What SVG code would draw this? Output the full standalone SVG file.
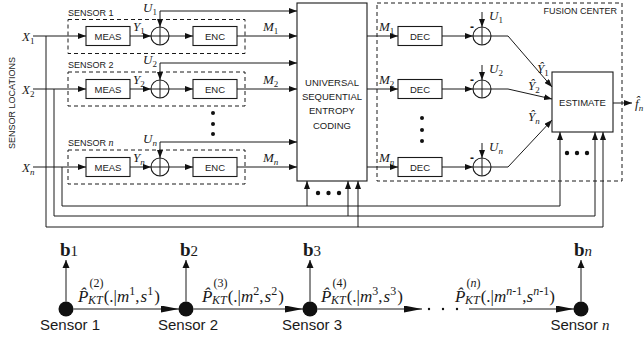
<svg xmlns="http://www.w3.org/2000/svg" width="644" height="341" viewBox="0 0 644 341">
<style>
.ln{fill:none;stroke:#1a1a1a;stroke-width:1}
.box{fill:#fff;stroke:#1a1a1a;stroke-width:1.1}
.dash{fill:none;stroke:#1a1a1a;stroke-width:1;stroke-dasharray:4 3}
.sans{font-family:"Liberation Sans",Arial,sans-serif;fill:#1a1a1a}
.bl{font-size:9.5px;text-anchor:middle}
.tag{font-size:9px}
.ser{font-family:"Liberation Serif","Times New Roman",serif;fill:#1a1a1a}
.var{font-size:13px;font-style:italic}
.sub{font-size:9px;font-style:normal}
.it{font-style:italic}
.pk{font-size:17px}
.sm{font-size:12px}
.dot{fill:#111}
.node{fill:#111}
.big{font-size:15px}
</style>
<defs>
<marker id="ah" viewBox="0 0 8 6" refX="8" refY="3" markerWidth="8" markerHeight="6" markerUnits="userSpaceOnUse" orient="auto"><path d="M0,0 L8,3 L0,6 z" fill="#111"/></marker>
<marker id="ahL" viewBox="0 0 18 7" refX="18" refY="3.5" markerWidth="18" markerHeight="7" markerUnits="userSpaceOnUse" orient="auto"><path d="M0,0 L18,3.5 L0,7 z" fill="#111"/></marker>
<marker id="ahU" viewBox="0 0 8 8" refX="8" refY="4" markerWidth="8" markerHeight="8" markerUnits="userSpaceOnUse" orient="auto"><path d="M0,0.5 L8,4 L0,7.5 z" fill="#111"/></marker>
</defs>

<text class="sans tag" transform="translate(15,103) rotate(-90)" text-anchor="middle">SENSOR LOCATIONS</text>

<g id="sensor1">
<rect class="dash" x="68" y="19.5" width="177" height="34"/>
<text class="sans tag" x="68" y="16">SENSOR 1</text>
<rect class="box" x="86" y="26.5" width="44" height="19"/>
<text class="sans bl" x="108" y="39.5">MEAS</text>
<circle class="box" cx="160" cy="36" r="9"/>
<path class="ln" d="M151,36 H169 M160,27 V45"/>
<rect class="box" x="193" y="26.5" width="44" height="19"/>
<text class="sans bl" x="215" y="39.5">ENC</text>
</g>
<g id="sensor2">
<rect class="dash" x="68" y="72" width="177" height="34"/>
<text class="sans tag" x="68" y="68">SENSOR 2</text>
<rect class="box" x="86" y="79.5" width="44" height="19"/>
<text class="sans bl" x="108" y="92.5">MEAS</text>
<circle class="box" cx="160" cy="89" r="9"/>
<path class="ln" d="M151,89 H169 M160,80 V98"/>
<rect class="box" x="193" y="79.5" width="44" height="19"/>
<text class="sans bl" x="215" y="92.5">ENC</text>
</g>
<g id="sensorn">
<rect class="dash" x="68" y="150" width="177" height="34"/>
<text class="sans tag" x="68" y="146">SENSOR <tspan class="ser it" font-size="10">n</tspan></text>
<rect class="box" x="86" y="157.5" width="44" height="19"/>
<text class="sans bl" x="108" y="170.5">MEAS</text>
<circle class="box" cx="160" cy="167" r="9"/>
<path class="ln" d="M151,167 H169 M160,158 V176"/>
<rect class="box" x="193" y="157.5" width="44" height="19"/>
<text class="sans bl" x="215" y="170.5">ENC</text>
</g>

<g id="usec">
<rect class="box" x="297" y="3" width="70" height="178"/>
<text class="sans bl" x="332" y="85.5">UNIVERSAL</text>
<text class="sans bl" x="332" y="100">SEQUENTIAL</text>
<text class="sans bl" x="332" y="114">ENTROPY</text>
<text class="sans bl" x="332" y="128.5">CODING</text>
</g>

<g id="fusion">
<rect class="dash" x="377" y="3" width="245" height="178"/>
<text class="sans tag" x="617" y="14" text-anchor="end">FUSION CENTER</text>
<rect class="box" x="398" y="26.5" width="44" height="19"/>
<text class="sans bl" x="420" y="39.5">DEC</text>
<circle class="box" cx="482" cy="36" r="9"/>
<path class="ln" d="M473,36 H491 M482,27 V45"/>
<rect class="box" x="398" y="79.5" width="44" height="19"/>
<text class="sans bl" x="420" y="92.5">DEC</text>
<circle class="box" cx="482" cy="89" r="9"/>
<path class="ln" d="M473,89 H491 M482,80 V98"/>
<rect class="box" x="398" y="157.5" width="44" height="19"/>
<text class="sans bl" x="420" y="170.5">DEC</text>
<circle class="box" cx="482" cy="167" r="9"/>
<path class="ln" d="M473,167 H491 M482,158 V176"/>
</g>

<g id="estimate">
<rect class="box" x="552" y="72" width="61" height="60"/>
<text class="sans bl" x="582.5" y="106">ESTIMATE</text>
</g>

<g id="connectors">
<path class="ln" d="M33,36 H86" marker-end="url(#ah)"/>
<path class="ln" d="M33,89 H86" marker-end="url(#ah)"/>
<path class="ln" d="M33,167 H86" marker-end="url(#ah)"/>
<path class="ln" d="M130,36 H151" marker-end="url(#ah)"/>
<path class="ln" d="M130,89 H151" marker-end="url(#ah)"/>
<path class="ln" d="M130,167 H151" marker-end="url(#ah)"/>
<path class="ln" d="M169,36 H193" marker-end="url(#ah)"/>
<path class="ln" d="M169,89 H193" marker-end="url(#ah)"/>
<path class="ln" d="M169,167 H193" marker-end="url(#ah)"/>
<path class="ln" d="M237,36 H297" marker-end="url(#ah)"/>
<path class="ln" d="M237,89 H297" marker-end="url(#ah)"/>
<path class="ln" d="M237,167 H297" marker-end="url(#ah)"/>
<path class="ln" d="M160,11 H297" marker-end="url(#ah)"/>
<path class="ln" d="M160,11 V27" marker-end="url(#ah)"/>
<path class="ln" d="M160,63 H297" marker-end="url(#ah)"/>
<path class="ln" d="M160,63 V80" marker-end="url(#ah)"/>
<path class="ln" d="M160,142 H297" marker-end="url(#ah)"/>
<path class="ln" d="M160,142 V158" marker-end="url(#ah)"/>
<path class="ln" d="M367,36 H398" marker-end="url(#ah)"/>
<path class="ln" d="M367,89 H398" marker-end="url(#ah)"/>
<path class="ln" d="M367,167 H398" marker-end="url(#ah)"/>
<path class="ln" d="M442,36 H473" marker-end="url(#ah)"/>
<path class="ln" d="M442,89 H473" marker-end="url(#ah)"/>
<path class="ln" d="M442,167 H473" marker-end="url(#ah)"/>
<path class="ln" d="M482,12 V27" marker-end="url(#ah)"/>
<path class="ln" d="M482,65 V80" marker-end="url(#ah)"/>
<path class="ln" d="M482,143 V158" marker-end="url(#ah)"/>
<path class="ln" d="M491,36 H508 L552,87" marker-end="url(#ah)"/>
<path class="ln" d="M491,89 H508 L552,99" marker-end="url(#ah)"/>
<path class="ln" d="M491,167 H508 L552,120" marker-end="url(#ah)"/>
<path class="ln" d="M613,103 H632" marker-end="url(#ah)"/>
<path class="ln" d="M46,36 V227 H603 V132" marker-end="url(#ah)"/>
<path class="ln" d="M54,89 V216 H595 V132" marker-end="url(#ah)"/>
<path class="ln" d="M62,167 V206 H560 V132" marker-end="url(#ah)"/>
<path class="ln" d="M358,227 V181" marker-end="url(#ah)"/>
<path class="ln" d="M348,216 V181" marker-end="url(#ah)"/>
<path class="ln" d="M307,206 V181" marker-end="url(#ah)"/>
<path class="ln" d="M66,301.5 V260" marker-end="url(#ahU)"/>
<path class="ln" d="M186,301.5 V260" marker-end="url(#ahU)"/>
<path class="ln" d="M310,301.5 V260" marker-end="url(#ahU)"/>
<path class="ln" d="M581,301.5 V260" marker-end="url(#ahU)"/>
<path class="ln" d="M73.5,309 H179" marker-end="url(#ahL)"/>
<path class="ln" d="M193.5,309 H303" marker-end="url(#ahL)"/>
<path class="ln" d="M317.5,309 H422" marker-end="url(#ahL)"/>
<path class="ln" d="M469,309 H574" marker-end="url(#ahL)"/>
</g>

<g id="labels">
<text class="ser var" x="22" y="41">X<tspan class="sub" dy="3">1</tspan></text>
<text class="ser var" x="22" y="94">X<tspan class="sub" dy="3">2</tspan></text>
<text class="ser var" x="22" y="172">X<tspan class="sub it" dy="3">n</tspan></text>
<text class="ser var" x="133" y="31">Y<tspan class="sub" dy="3">1</tspan></text>
<text class="ser var" x="133" y="84">Y<tspan class="sub" dy="3">2</tspan></text>
<text class="ser var" x="133" y="162">Y<tspan class="sub it" dy="3">n</tspan></text>
<text class="ser var" x="143" y="12">U<tspan class="sub" dy="3">1</tspan></text>
<text class="ser var" x="143" y="64">U<tspan class="sub" dy="3">2</tspan></text>
<text class="ser var" x="143" y="143">U<tspan class="sub it" dy="3">n</tspan></text>
<text class="ser var" x="263" y="31">M<tspan class="sub" dy="3">1</tspan></text>
<text class="ser var" x="263" y="84">M<tspan class="sub" dy="3">2</tspan></text>
<text class="ser var" x="263" y="162">M<tspan class="sub it" dy="3">n</tspan></text>
<text class="ser var" x="379" y="31">M<tspan class="sub" dy="3">1</tspan></text>
<text class="ser var" x="379" y="84">M<tspan class="sub" dy="3">2</tspan></text>
<text class="ser var" x="379" y="162">M<tspan class="sub it" dy="3">n</tspan></text>
<text class="ser var" x="489" y="20">U<tspan class="sub" dy="3">1</tspan></text>
<text class="ser var" x="489" y="73">U<tspan class="sub" dy="3">2</tspan></text>
<text class="ser var" x="489" y="151">U<tspan class="sub it" dy="3">n</tspan></text>
<text class="sans" font-size="12" font-weight="bold" x="470" y="31">-</text>
<text class="sans" font-size="12" font-weight="bold" x="470" y="84">-</text>
<text class="sans" font-size="12" font-weight="bold" x="470" y="162">-</text>
<text class="ser var" x="537" y="73">Ŷ<tspan class="sub" dy="3">1</tspan></text>
<text class="ser var" x="528" y="90">Ŷ<tspan class="sub" dy="3">2</tspan></text>
<text class="ser var" x="528" y="121">Ŷ<tspan class="sub it" dy="3">n</tspan></text>
<text class="ser var" x="635" y="108">f̂<tspan class="sub it" dy="3">n</tspan></text>
</g>

<g id="dots">
<circle class="dot" cx="213" cy="113" r="2"/>
<circle class="dot" cx="213" cy="124" r="2"/>
<circle class="dot" cx="213" cy="134" r="2"/>
<circle class="dot" cx="422" cy="118" r="2"/>
<circle class="dot" cx="422" cy="130" r="2"/>
<circle class="dot" cx="422" cy="141" r="2"/>
<circle class="dot" cx="318" cy="193" r="2.2"/>
<circle class="dot" cx="328.5" cy="193" r="2.2"/>
<circle class="dot" cx="339" cy="193" r="2.2"/>
<circle class="dot" cx="567" cy="153" r="2.2"/>
<circle class="dot" cx="577" cy="153" r="2.2"/>
<circle class="dot" cx="587" cy="153" r="2.2"/>
<circle class="dot" cx="429" cy="309" r="1.2"/>
<circle class="dot" cx="443" cy="309" r="1.2"/>
<circle class="dot" cx="457" cy="309" r="1.2"/>
</g>

<g id="node1">
<circle class="node" cx="66" cy="309" r="7.5"/>
<text class="ser" x="60" y="256"><tspan font-size="19" font-weight="bold">b</tspan><tspan font-size="15">1</tspan></text>
<text class="sans big" x="70" y="330" text-anchor="middle">Sensor 1</text>
</g>
<g id="node2">
<circle class="node" cx="186" cy="309" r="7.5"/>
<text class="ser" x="180" y="256"><tspan font-size="19" font-weight="bold">b</tspan><tspan font-size="15">2</tspan></text>
<text class="sans big" x="188" y="330" text-anchor="middle">Sensor 2</text>
</g>
<g id="node3">
<circle class="node" cx="310" cy="309" r="7.5"/>
<text class="ser" x="303" y="256"><tspan font-size="19" font-weight="bold">b</tspan><tspan font-size="15">3</tspan></text>
<text class="sans big" x="312" y="330" text-anchor="middle">Sensor 3</text>
</g>
<g id="noden">
<circle class="node" cx="581" cy="309" r="7.5"/>
<text class="ser" x="574" y="256"><tspan font-size="19" font-weight="bold">b</tspan><tspan font-size="15" font-style="italic">n</tspan></text>
<text class="sans big" x="580" y="330" text-anchor="middle">Sensor <tspan class="ser it">n</tspan></text>
</g>

<g id="plabels">
<text class="ser pk" x="78" y="302"><tspan class="it">P̂</tspan><tspan class="sm" dx="1" dy="-15">(2)</tspan><tspan class="sm it" x="88" dy="17">KT</tspan><tspan dy="-2" dx="1">(.|</tspan><tspan class="it">m</tspan><tspan class="sm" dy="-7">1</tspan><tspan dy="7">,</tspan><tspan class="it" dx="1">s</tspan><tspan class="sm" dy="-7">1</tspan><tspan dy="7" dx="1">)</tspan></text>
<text class="ser pk" x="202" y="302"><tspan class="it">P̂</tspan><tspan class="sm" dx="1" dy="-15">(3)</tspan><tspan class="sm it" x="212" dy="17">KT</tspan><tspan dy="-2" dx="1">(.|</tspan><tspan class="it">m</tspan><tspan class="sm" dy="-7">2</tspan><tspan dy="7">,</tspan><tspan class="it" dx="1">s</tspan><tspan class="sm" dy="-7">2</tspan><tspan dy="7" dx="1">)</tspan></text>
<text class="ser pk" x="321" y="302"><tspan class="it">P̂</tspan><tspan class="sm" dx="1" dy="-15">(4)</tspan><tspan class="sm it" x="331" dy="17">KT</tspan><tspan dy="-2" dx="1">(.|</tspan><tspan class="it">m</tspan><tspan class="sm" dy="-7">3</tspan><tspan dy="7">,</tspan><tspan class="it" dx="1">s</tspan><tspan class="sm" dy="-7">3</tspan><tspan dy="7" dx="1">)</tspan></text>
<text class="ser pk" x="455" y="302"><tspan class="it">P̂</tspan><tspan class="sm" dx="1" dy="-15">(<tspan class="it">n</tspan>)</tspan><tspan class="sm it" x="465" dy="17">KT</tspan><tspan dy="-2" dx="1">(.|</tspan><tspan class="it">m</tspan><tspan class="sm" dy="-7"><tspan class="it">n</tspan>-1</tspan><tspan dy="7">,</tspan><tspan class="it">s</tspan><tspan class="sm" dy="-7"><tspan class="it">n</tspan>-1</tspan><tspan dy="7">)</tspan></text>
</g>
</svg>
